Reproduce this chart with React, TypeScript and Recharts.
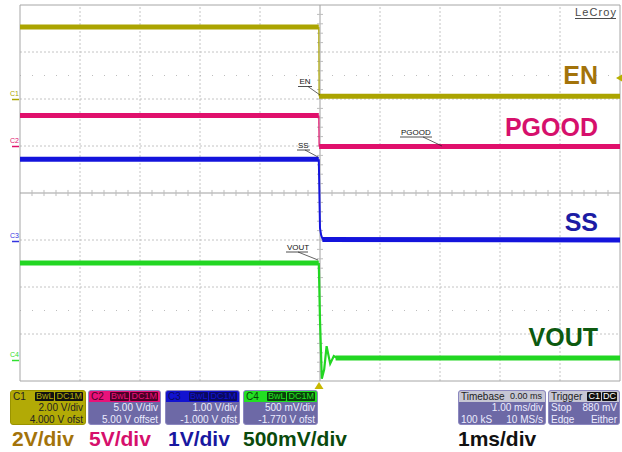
import React from 'react';
import { LineChart, Line, XAxis, YAxis, ReferenceLine } from 'recharts';

const FONT = "'Liberation Sans', Arial, Helvetica, sans-serif";

// time in ms (1 ms/div, trigger at 0), value in screen divisions (centre = 0)
// each trace: settled level before the edge, the edge itself, settled level after
const enPre = [{ t: -5, v: 3.53 }, { t: -0.02, v: 3.53 }];
const enEdge = [{ t: -0.02, v: 3.53 }, { t: -0.015, v: 2.06 }];
const enPost = [{ t: -0.015, v: 2.06 }, { t: 5, v: 2.06 }];

const pgPre = [{ t: -5, v: 1.65 }, { t: -0.02, v: 1.65 }];
const pgEdge = [{ t: -0.02, v: 1.65 }, { t: -0.015, v: 0.99 }];
const pgPost = [{ t: -0.015, v: 0.99 }, { t: 5, v: 0.99 }];

const ssPre = [{ t: -5, v: 0.72 }, { t: -0.02, v: 0.72 }];
const ssEdge = [
  { t: -0.02, v: 0.72 }, { t: 0.0, v: -0.75 }, { t: 0.02, v: -0.9 }, { t: 0.04, v: -0.97 }, { t: 0.06, v: -1.0 },
];
const ssPost = [{ t: 0.04, v: -0.99 }, { t: 5, v: -1.0 }];

const voPre = [{ t: -5, v: -1.49 }, { t: -0.02, v: -1.49 }];
const voEdge = [
  { t: -0.02, v: -1.49 }, { t: 0.0, v: -2.7 }, { t: 0.03, v: -3.95 }, { t: 0.07, v: -3.75 },
  { t: 0.11, v: -3.26 }, { t: 0.17, v: -3.63 }, { t: 0.23, v: -3.47 }, { t: 0.3, v: -3.52 },
];
const voPost = [{ t: 0.26, v: -3.51 }, { t: 5, v: -3.51 }];

const xGrid = [-4, -3, -2, -1, 1, 2, 3, 4];
const yGrid = [-3, -2, -1, 1, 2, 3];
const xMinor = Array.from({ length: 49 }, (_, i) => -4.8 + i * 0.2);
const yMinor = Array.from({ length: 39 }, (_, i) => -3.8 + i * 0.2);
const dotRows = [2.5, -2.5];

const traceLabels = ['EN', 'PGOOD', 'SS', 'VOUT'];
const scaleLabels = ['2V/div', '5V/div', '1V/div', '500mV/div', '1ms/div'];
const c1Rows = ['2.00 V/div', '4.000 V ofst'];
const c2Rows = ['5.00 V/div', '5.00 V offset'];
const c3Rows = ['1.00 V/div', '-1.000 V ofst'];
const c4Rows = ['500 mV/div', '-1.770 V ofst'];

const C_EN = '#aba400';
const C_PG = '#e0106c';
const C_SS = '#1414dc';
const C_VO = '#22d622';
const SLATE = '#6d69a6';

type BoxProps = {
  left: number; width: number; bg: string; headBg: string; headColor: string;
  name: string; chips: string[]; chipBg: string; chipColor: string;
  rows: [string, string][]; rowColor: string; border: string;
};

function InfoBox(p: BoxProps) {
  return (
    <div style={{
      position: 'absolute', left: p.left, top: 390, width: p.width, height: 35,
      background: p.bg, borderRadius: 3, overflow: 'hidden', fontFamily: FONT,
      fontSize: 10, boxSizing: 'border-box', border: `1px solid ${p.border}`,
    }}>
      <div style={{
        height: 11, background: p.headBg, color: p.headColor, display: 'flex',
        justifyContent: 'space-between', alignItems: 'center', padding: '0 2px', lineHeight: '11px',
      }}>
        <span>{p.name}</span>
        <span style={{ display: 'flex' }}>
          {p.chips.map((c) => (
            <span key={c} style={{
              background: p.chipBg, color: p.chipColor, fontSize: 9, lineHeight: '9px',
              padding: '0 1px', marginLeft: 1, borderRadius: 1,
            }}>{c}</span>
          ))}
        </span>
      </div>
      {p.rows.map(([a, b], i) => (
        <div key={i} style={{
          height: 11.5, lineHeight: '11.5px', color: p.rowColor, display: 'flex',
          justifyContent: 'space-between', padding: '0 2px',
        }}>
          <span>{a}</span><span>{b}</span>
        </div>
      ))}
    </div>
  );
}

function Trace({ pre, edge, post, color, edgeWidth }: any) {
  return null;
}

export default function App() {
  const lines: [any[], any[], any[], string, number][] = [
    [enPre, enEdge, enPost, C_EN, 1.2],
    [pgPre, pgEdge, pgPost, C_PG, 1.2],
    [ssPre, ssEdge, ssPost, C_SS, 2],
    [voPre, voEdge, voPost, C_VO, 2.2],
  ];
  return (
    <div style={{ position: 'fixed', left: 0, top: 0, width: 622, height: 452, background: '#fff', overflow: 'hidden' }}>
      <LineChart width={622} height={452} margin={{ top: 5, right: 2, bottom: 71, left: 20 }}>
        <XAxis type="number" dataKey="t" domain={[-5, 5]} hide allowDataOverflow />
        <YAxis type="number" domain={[-4, 4]} hide allowDataOverflow />
        {xGrid.map((x) => (
          <ReferenceLine key={'gx' + x} x={x} stroke="#c4c4c4" strokeDasharray="2 2" />
        ))}
        {yGrid.map((y) => (
          <ReferenceLine key={'gy' + y} y={y} stroke="#c4c4c4" strokeDasharray="2 2" />
        ))}
        {dotRows.map((y) => (
          <ReferenceLine key={'dr' + y} y={y} stroke="#bdbdbd" strokeDasharray="1 11" />
        ))}
        <ReferenceLine y={0} stroke="#cfcfcf" strokeWidth={2} />
        <ReferenceLine x={0} stroke="#cfcfcf" strokeWidth={2} />
        {xMinor.map((x) => (
          <ReferenceLine key={'mx' + x} segment={[{ x, y: -0.065 }, { x, y: 0.065 }]} stroke="#bdbdbd" />
        ))}
        {yMinor.map((y) => (
          <ReferenceLine key={'my' + y} segment={[{ x: -0.05, y }, { x: 0.05, y }]} stroke="#bdbdbd" />
        ))}
        <ReferenceLine x={-5} stroke="#a6a6a6" />
        <ReferenceLine x={5} stroke="#a6a6a6" />
        <ReferenceLine y={4} stroke="#a6a6a6" />
        <ReferenceLine y={-4} stroke="#a6a6a6" />
        {lines.map(([pre, edge, post, color, w], i) => [
          <Line key={'p' + i} data={pre} dataKey="v" type="linear" stroke={color} strokeWidth={5} dot={false} isAnimationActive={false} />,
          <Line key={'q' + i} data={post} dataKey="v" type="linear" stroke={color} strokeWidth={5} dot={false} isAnimationActive={false} />,
          <Line key={'e' + i} data={edge} dataKey="v" type="linear" stroke={color} strokeWidth={w} dot={false} isAnimationActive={false} />,
        ])}
      </LineChart>

      <svg width={622} height={452} style={{ position: 'absolute', left: 0, top: 0, pointerEvents: 'none' }}>
        {/* LeCroy wordmark */}
        <text x={575} y={16} fontFamily={FONT} fontSize={11} fill="#4a4a4a" textLength={41}>LeCroy</text>
        <line x1={575} y1={18.5} x2={616} y2={18.5} stroke="#4a4a4a" strokeWidth={1} />

        {/* channel ground markers */}
        <text x={10} y={96} fontFamily={FONT} fontSize={7} fill={C_EN}>C1</text>
        <line x1={12} y1={99.5} x2={19} y2={99.5} stroke={C_EN} strokeWidth={1.5} />
        <text x={10} y={143} fontFamily={FONT} fontSize={7} fill={C_PG}>C2</text>
        <line x1={12} y1={146.5} x2={19} y2={146.5} stroke={C_PG} strokeWidth={1.5} />
        <text x={10} y={238} fontFamily={FONT} fontSize={7} fill="#3434e0">C3</text>
        <line x1={12} y1={241.5} x2={19} y2={241.5} stroke="#3434e0" strokeWidth={1.5} />
        <text x={10} y={357} fontFamily={FONT} fontSize={7} fill="#30e030">C4</text>
        <line x1={12} y1={360.5} x2={19} y2={360.5} stroke="#30e030" strokeWidth={1.5} />

        {/* trigger level / position markers */}
        <polygon points="616,78 622,74.5 622,81.5" fill="#b8b000" />
        <polygon points="319,382 314.5,389 323.5,389" fill="#c8b800" />

        {/* trace annotations */}
        <text x={299.5} y={84} fontFamily={FONT} fontSize={8} fill="#111">EN</text>
        <line x1={298} y1={86.5} x2={312} y2={86.5} stroke="#222" strokeWidth={0.8} />
        <line x1={308} y1={86.5} x2={320} y2={95} stroke="#222" strokeWidth={0.7} />

        <text x={298} y={148} fontFamily={FONT} fontSize={8} fill="#111">SS</text>
        <line x1={297} y1={150} x2={310} y2={150} stroke="#222" strokeWidth={0.8} />
        <line x1={305} y1={150} x2={318} y2={157} stroke="#222" strokeWidth={0.7} />

        <text x={401} y={134.5} fontFamily={FONT} fontSize={8} fill="#111">PGOOD</text>
        <line x1={400} y1={137} x2={432} y2={137} stroke="#222" strokeWidth={0.8} />
        <line x1={423} y1={137} x2={442} y2={146} stroke="#222" strokeWidth={0.7} />

        <text x={287} y={249.5} fontFamily={FONT} fontSize={8} fill="#111">VOUT</text>
        <line x1={286} y1={252} x2={308} y2={252} stroke="#222" strokeWidth={0.8} />
        <line x1={298} y1={252} x2={318} y2={260} stroke="#222" strokeWidth={0.7} />

        {/* big trace labels */}
        <text x={598} y={84} textAnchor="end" fontFamily={FONT} fontSize={25} fontWeight="bold" fill="#a3730a">{traceLabels[0]}</text>
        <text x={598} y={136} textAnchor="end" fontFamily={FONT} fontSize={25} fontWeight="bold" fill="#d6106c">{traceLabels[1]}</text>
        <text x={598} y={231} textAnchor="end" fontFamily={FONT} fontSize={25} fontWeight="bold" fill="#1c1ca4">{traceLabels[2]}</text>
        <text x={598} y={346} textAnchor="end" fontFamily={FONT} fontSize={25} fontWeight="bold" fill="#0d5a10">{traceLabels[3]}</text>

        {/* bottom scale labels */}
        <text x={12} y={446} fontFamily={FONT} fontSize={21} fontWeight="bold" fill="#a3730a">{scaleLabels[0]}</text>
        <text x={89} y={446} fontFamily={FONT} fontSize={21} fontWeight="bold" fill="#d6106c">{scaleLabels[1]}</text>
        <text x={168} y={446} fontFamily={FONT} fontSize={21} fontWeight="bold" fill="#1818a0">{scaleLabels[2]}</text>
        <text x={243} y={446} fontFamily={FONT} fontSize={21} fontWeight="bold" fill="#0a4a0c">{scaleLabels[3]}</text>
        <text x={458} y={446} fontFamily={FONT} fontSize={21} fontWeight="bold" fill="#111">{scaleLabels[4]}</text>
      </svg>

      <InfoBox left={10} width={76} bg="#b2aa06" headBg="#b2aa06" headColor="#222" name="C1"
        chips={['BwL', 'DC1M']} chipBg="#111" chipColor="#b2aa06" border="#9a9300"
        rows={[['', c1Rows[0]], ['', c1Rows[1]]]} rowColor="#222" />
      <InfoBox left={88} width={73} bg={SLATE} headBg="#e8127a" headColor="#4a0026" name="C2"
        chips={['BwL', 'DC1M']} chipBg="#4a0026" chipColor="#e8127a" border="#8c88c0"
        rows={[['', c2Rows[0]], ['', c2Rows[1]]]} rowColor="#ececff" />
      <InfoBox left={165} width={75} bg={SLATE} headBg="#1212d0" headColor="#0a0a60" name="C3"
        chips={['BwL', 'DC1M']} chipBg="#0a0a60" chipColor="#1212d0" border="#8c88c0"
        rows={[['', c3Rows[0]], ['', c3Rows[1]]]} rowColor="#ececff" />
      <InfoBox left={243} width={75} bg={SLATE} headBg="#22e022" headColor="#0a400a" name="C4"
        chips={['BwL', 'DC1M']} chipBg="#0a400a" chipColor="#22e022" border="#8c88c0"
        rows={[['', c4Rows[0]], ['', c4Rows[1]]]} rowColor="#ececff" />
      <InfoBox left={458} width={88} bg={SLATE} headBg="#c6c6d4" headColor="#222" name="Timebase"
        chips={['0.00 ms']} chipBg="transparent" chipColor="#222" border="#8c88c0"
        rows={[['', '1.00 ms/div'], ['100 kS', '10 MS/s']]} rowColor="#ececff" />
      <InfoBox left={548} width={72} bg={SLATE} headBg="#c6c6d4" headColor="#222" name="Trigger"
        chips={['C1', 'DC']} chipBg="#111" chipColor="#fff" border="#8c88c0"
        rows={[['Stop', '880 mV'], ['Edge', 'Either']]} rowColor="#ececff" />
    </div>
  );
}
